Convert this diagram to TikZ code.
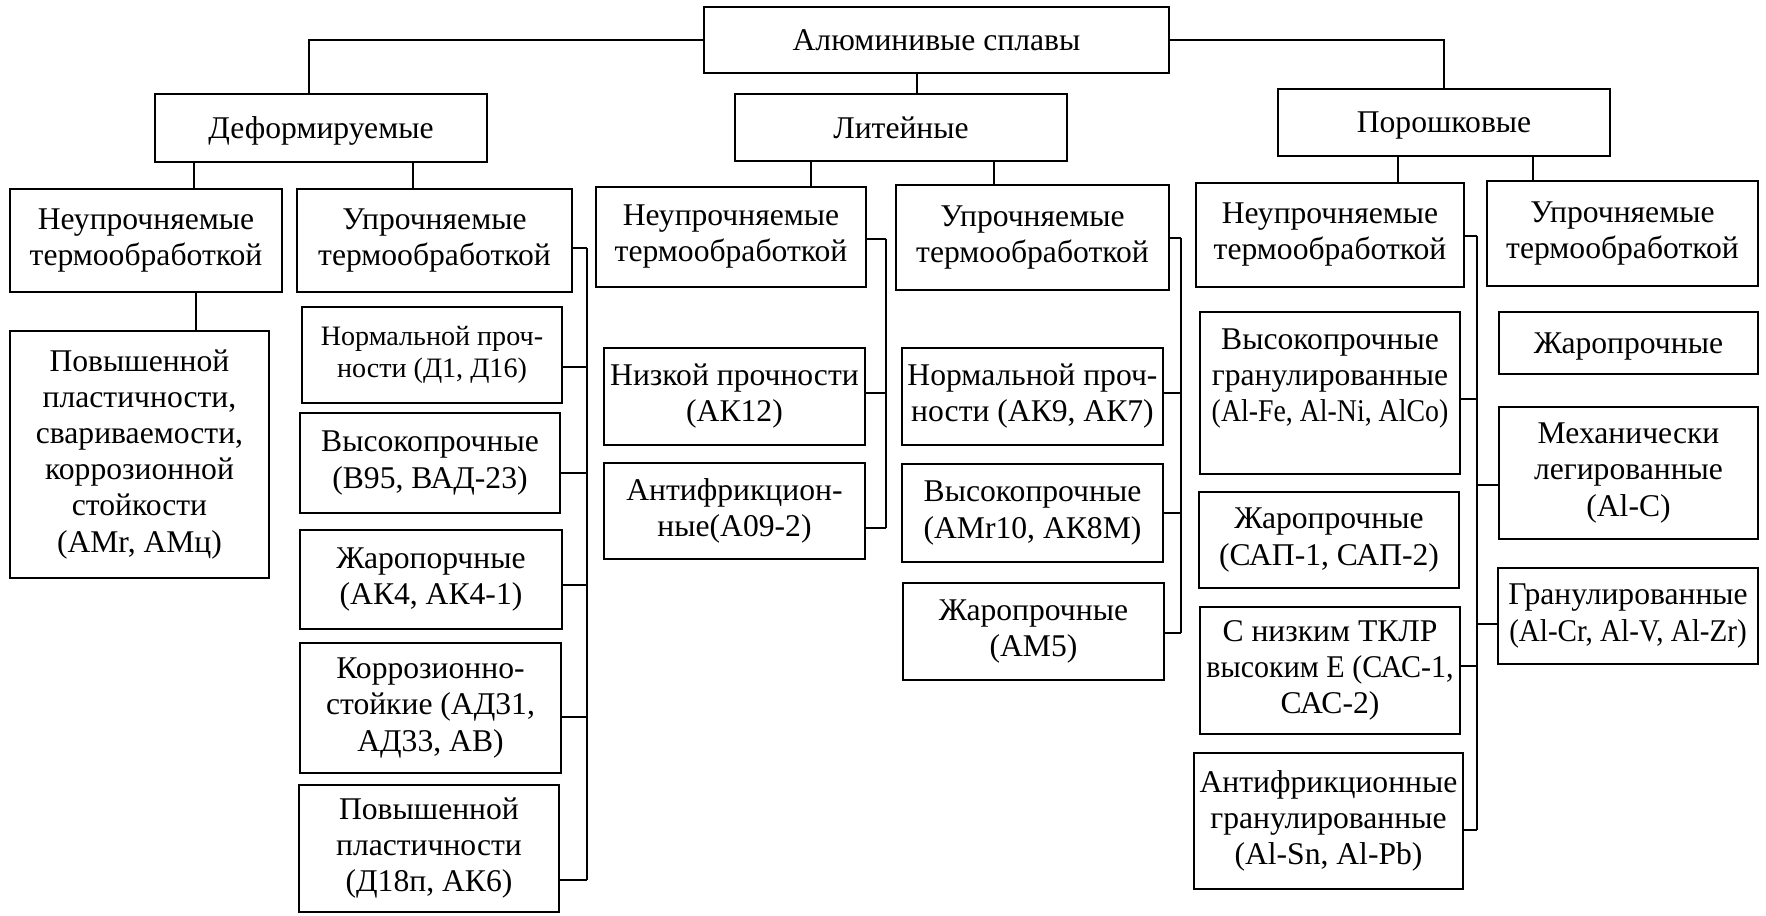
\documentclass[tikz,border=0pt]{standalone}
\usepackage{fontspec}
\usepackage{graphicx}
\setmainfont{Liberation Serif}
\usetikzlibrary{calc}
\tikzset{
  box/.style={draw, line width=1.45pt, inner sep=0pt, align=center, font=\fontsize{18}{20.5}\selectfont},
  smalltext/.style={font=\fontsize{16}{18.2}\selectfont},
  oneline/.style={text depth=0pt},
  conn/.style={line width=1.45pt},
}
% \bx[opts]{name}{x1}{y1}{x2}{y2}{text}  (pixel coordinates, y downward)
\newcommand\bx[7][]{\node[box, minimum width={(#5-#3)*0.02cm}, minimum height={(#6-#4)*0.02cm}, #1] (#2) at ({(#3+#5)/2},{(#4+#6)/2}) {#7};}
% \stubE{node}{y}{bus}  horizontal stub from east side of node to bus
\newcommand\stubE[3]{\draw[conn] (#1.east |- 0,#2) -- (#3 |- 0,#2);}
\newcommand\stubW[3]{\draw[conn] (#1.west |- 0,#2) -- (#3 |- 0,#2);}
\newcommand\narrow[2]{\scalebox{#1}[1]{#2}}
\begin{document}
\begin{tikzpicture}[x=0.02cm, y=-0.02cm]
\useasboundingbox (0,0) rectangle (1766,916);

% level 0 and 1
\bx{root}{704}{7}{1169}{73}{Алюминивые сплавы}
\bx[oneline]{def}{155}{94}{487}{162}{Деформируемые}
\bx{lit}{735}{94}{1067}{161}{Литейные}
\bx[oneline]{por}{1278}{89}{1610}{156}{Порошковые}

% level 2
\bx{n1}{10}{189}{282}{292}{Неупрочняемые\\термообработкой}
\bx{u1}{297}{189}{572}{292}{Упрочняемые\\термообработкой}
\bx{n2}{596}{187}{866}{287}{Неупрочняемые\\термообработкой}
\bx{u2}{896}{185}{1169}{290}{Упрочняемые\\термообработкой}
\bx{n3}{1196}{183}{1464}{287}{Неупрочняемые\\термообработкой}
\bx{u3}{1487}{181}{1758}{286}{Упрочняемые\\термообработкой}

% Deformable children
\bx{a1}{10}{331}{269}{578}{Повышенной\\пластичности,\\свариваемости,\\коррозионной\\стойкости\\(АМr, АМц)}
\bx[smalltext]{b1}{302}{307}{562}{403}{Нормальной проч-\\ности (Д1, Д16)}
\bx{b2}{300}{413}{560}{513}{Высокопрочные\\(В95, ВАД-23)}
\bx{b3}{300}{530}{562}{629}{Жаропорчные\\(АК4, АК4-1)}
\bx{b4}{300}{643}{561}{773}{Коррозионно-\\стойкие (АД31,\\АД33, АВ)}
\bx{b5}{299}{785}{559}{912}{Повышенной\\пластичности\\(Д18п, АК6)}

% Cast children
\bx{c1}{604}{348}{865}{445}{Низкой прочности\\(АК12)}
\bx{c2}{604}{463}{865}{559}{Антифрикцион-\\ные(А09-2)}
\bx{e1}{902}{348}{1163}{445}{Нормальной проч-\\ности (АК9, АК7)}
\bx{e2}{902}{464}{1163}{562}{Высокопрочные\\(АМr10, АК8М)}
\bx{e3}{903}{583}{1164}{680}{Жаропрочные\\(АМ5)}

% Powder children
\bx{f1}{1200}{312}{1460}{474}{Высокопрочные\\гранулированные\\\narrow{0.88}{(Al-Fe, Al-Ni, AlCo)}\\\mbox{}}
\bx{f2}{1199}{492}{1459}{588}{Жаропрочные\\(САП-1, САП-2)}
\bx{f3}{1200}{607}{1460}{734}{С низким ТКЛР\\\narrow{0.95}{высоким Е (САС-1,}\\САС-2)}
\bx{f4}{1194}{753}{1463}{889}{Антифрикционные\\гранулированные\\(Al-Sn, Al-Pb)}
\bx[oneline]{g1}{1499}{312}{1758}{374}{Жаропрочные}
\bx{g2}{1499}{407}{1758}{539}{Механически\\легированные\\(Al-C)}
\bx{g3}{1498}{568}{1758}{664}{Гранулированные\\\narrow{0.92}{(Al-Cr, Al-V, Al-Zr)}}

% bend / bus coordinates
\coordinate (xl) at (309,0);
\coordinate (xr) at (917,0);
\coordinate (xd1) at (194,0);
\coordinate (xd2) at (413,0);
\coordinate (xc1) at (811,0);
\coordinate (xc2) at (994,0);
\coordinate (xp1) at (1398,0);
\coordinate (xp2) at (1533,0);
\coordinate (xa) at (196,0);
\coordinate (bd) at (587,0);
\coordinate (bn) at (886,0);
\coordinate (bu) at (1181,0);
\coordinate (bp) at (1477,0);

% top connectors
\draw[conn] (root.west) -| (def.north -| xl);
\draw[conn] (root.east) -| (por.north);
\draw[conn] (root.south -| xr) -- (lit.north -| xr);

% drops to level 2
\draw[conn] (def.south -| xd1) -- (n1.north -| xd1);
\draw[conn] (def.south -| xd2) -- (u1.north -| xd2);
\draw[conn] (lit.south -| xc1) -- (n2.north -| xc1);
\draw[conn] (lit.south -| xc2) -- (u2.north -| xc2);
\draw[conn] (por.south -| xp1) -- (n3.north -| xp1);
\draw[conn] (por.south -| xp2) -- (u3.north -| xp2);
\draw[conn] (n1.south -| xa) -- (a1.north -| xa);

% deformable hardened bus
\draw[conn] (bd |- 0,248) -- (bd |- 0,880);
\stubE{u1}{248}{bd}
\stubE{b1}{367}{bd}
\stubE{b2}{473}{bd}
\stubE{b3}{585}{bd}
\stubE{b4}{717}{bd}
\stubE{b5}{880}{bd}

% cast non-hardened bus
\draw[conn] (bn |- 0,239) -- (bn |- 0,528);
\stubE{n2}{239}{bn}
\stubE{c1}{393}{bn}
\stubE{c2}{528}{bn}

% cast hardened bus
\draw[conn] (bu |- 0,238) -- (bu |- 0,633);
\stubE{u2}{238}{bu}
\stubE{e1}{393}{bu}
\stubE{e2}{513}{bu}
\stubE{e3}{633}{bu}

% powder bus
\draw[conn] (bp |- 0,236) -- (bp |- 0,830);
\stubE{n3}{236}{bp}
\stubE{f1}{399}{bp}
\stubE{f3}{666}{bp}
\stubE{f4}{830}{bp}
\stubW{g2}{485}{bp}
\stubW{g3}{624}{bp}
\end{tikzpicture}
\end{document}
